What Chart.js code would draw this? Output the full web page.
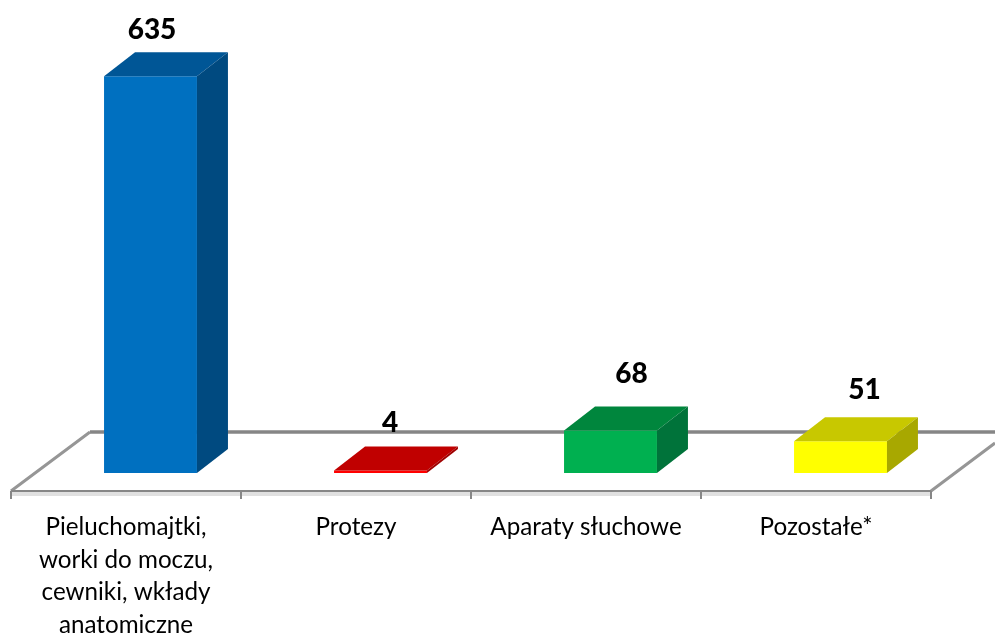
<!DOCTYPE html>
<html>
<head>
<meta charset="utf-8">
<style>
  html, body { margin: 0; padding: 0; background: #fff; }
  canvas { display: block; }
</style>
<script src="https://cdn.jsdelivr.net/npm/chart.js@4"></script>
</head>
<body>
<canvas id="chart" width="995" height="633"></canvas>
<script>
const categories = [
    ['Pieluchomajtki,', 'worki do moczu,', 'cewniki, wkłady', 'anatomiczne'],
    'Protezy',
    'Aparaty słuchowe',
    'Pozostałe*'
]
const values = [635, 4, 68, 51]

const frontColors = ['#0070C0', '#FF0000', '#00B050', '#FFFF00']
const topColors = ['#005696', '#C00000', '#00863D', '#C8C800']
const sideColors = ['#004A80', '#A00000', '#00733A', '#A8A800']

// value labels were hand placed in the original, so they sit at different offsets from the bars
const labelShiftX = [1.5, 9.5, 21, 24]
const labelShiftY = [-46, -47.5, -56.5, -51]

// 3d look
const depthX = 31
const depthY = 24
const floorShift = 24.5  // floor starts this far left of the category band
const floorDrop = 18     // front edge of the floor under the bars
const floorBackY = 432
const axisGrey = '#868686'

const polygon = (ctx, points, color) => {
    ctx.fillStyle = color
    ctx.beginPath()
    points.forEach((p, i) => i ? ctx.lineTo(p[0], p[1]) : ctx.moveTo(p[0], p[1]))
    ctx.closePath()
    ctx.fill()
}

const floorPlugin = {
    id: 'floor',
    beforeDatasetsDraw(chart) {
        const ctx = chart.ctx
        const x = chart.scales.x
        const band = x.getPixelForTick(1) - x.getPixelForTick(0)
        const y0 = chart.scales.y.getPixelForValue(0) + floorDrop
        const left = x.left - floorShift
        const right = x.right - floorShift
        ctx.save()
        ctx.strokeStyle = axisGrey

        // soft shade under the front edge
        ctx.fillStyle = '#E0E0E0'
        ctx.fillRect(left, y0 + 1, right - left, 4)

        // back edge and the two sides
        ctx.lineWidth = 3.5
        ctx.beginPath()
        ctx.moveTo(left + 79, floorBackY)
        ctx.lineTo(chart.width, floorBackY)
        ctx.stroke()
        ctx.strokeStyle = '#969696'
        ctx.lineWidth = 3
        ctx.beginPath()
        ctx.moveTo(left, y0)
        ctx.lineTo(left + 79, floorBackY)
        ctx.moveTo(right, y0)
        ctx.lineTo(right + 64, y0 - 48)
        ctx.stroke()

        // front edge with tick marks
        ctx.strokeStyle = axisGrey
        ctx.lineWidth = 2
        ctx.beginPath()
        ctx.moveTo(left, y0)
        ctx.lineTo(right, y0)
        for (let i = 0; i <= categories.length; i++) {
            ctx.moveTo(left + i * band, y0)
            ctx.lineTo(left + i * band, y0 + 8)
        }
        ctx.stroke()
        ctx.restore()
    }
}

const boxPlugin = {
    id: 'box',
    afterDatasetsDraw(chart) {
        const ctx = chart.ctx
        const bars = chart.getDatasetMeta(0).data
        ctx.save()
        bars.forEach((bar, i) => {
            const l = bar.x - bar.width / 2
            const r = bar.x + bar.width / 2
            const t = bar.y
            const b = bar.base
            polygon(ctx, [[l, t], [l + depthX, t - depthY], [r + depthX, t - depthY], [r, t]], topColors[i])
            polygon(ctx, [[r, t], [r + depthX, t - depthY], [r + depthX, b - depthY], [r, b]], sideColors[i])

            ctx.fillStyle = '#000'
            ctx.font = '900 28px Lato'
            ctx.textAlign = 'center'
            ctx.textBaseline = 'middle'
            ctx.fillText(values[i], bar.x + labelShiftX[i], t + labelShiftY[i])
        })
        ctx.restore()
    }
}

new Chart(document.getElementById('chart'), {
    type: 'bar',
    data: {
        labels: categories,
        datasets: [{
            data: values,
            backgroundColor: frontColors,
            borderWidth: 0,
            categoryPercentage: 1,
            barPercentage: 0.404
        }]
    },
    options: {
        responsive: false,
        animation: false,
        layout: { padding: { left: 35.5, right: 39.5, top: 35.5, bottom: 0 } },
        plugins: { legend: { display: false }, tooltip: { enabled: false } },
        scales: {
            x: {
                grid: { display: false },
                border: { display: false },
                afterFit: (scale) => { scale.height = 160 },
                ticks: {
                    color: '#000',
                    font: { family: 'Lato', size: 24.2, lineHeight: 1.343 },
                    labelOffset: -24.5,
                    padding: 30,
                    maxRotation: 0,
                    autoSkip: false
                }
            },
            y: { display: false, min: 0, max: 700 }
        }
    },
    plugins: [floorPlugin, boxPlugin]
})
</script>
</body>
</html>
